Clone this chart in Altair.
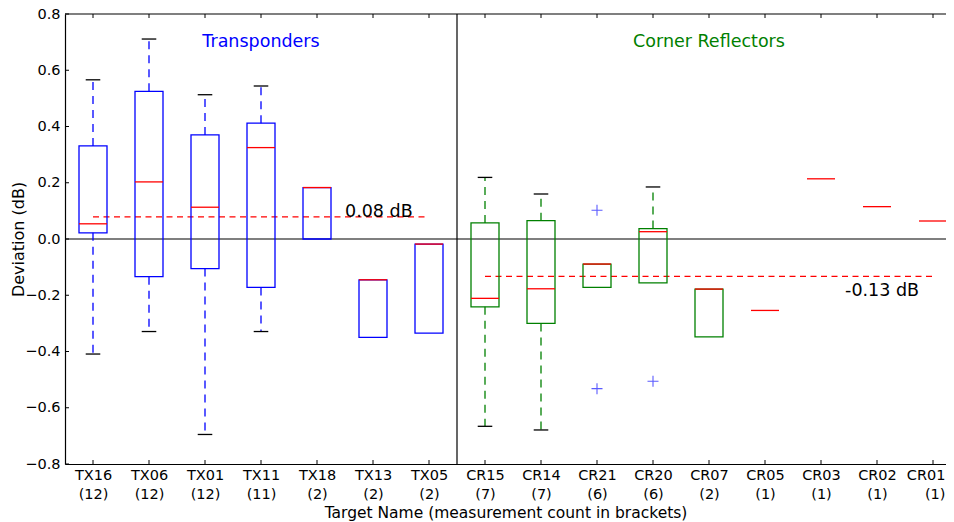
import altair as alt
import pandas as pd

names = ["TX16", "TX06", "TX01", "TX11", "TX18", "TX13", "TX05",
         "CR15", "CR14", "CR21", "CR20", "CR07", "CR05", "CR03", "CR02", "CR01"]
counts = [12, 12, 12, 11, 2, 2, 2, 7, 7, 6, 6, 2, 1, 1, 1, 1]
groups = ["Transponders"] * 7 + ["Corner Reflectors"] * 9
q1 = [0.022, -0.134, -0.105, -0.172, 0.0, -0.350, -0.335,
      -0.241, -0.300, -0.172, -0.156, -0.348, None, None, None, None]
q3 = [0.331, 0.525, 0.370, 0.412, 0.183, -0.145, -0.018,
      0.057, 0.065, -0.089, 0.037, -0.178, None, None, None, None]
medians = [0.054, 0.203, 0.113, 0.325, 0.183, -0.145, -0.018,
           -0.211, -0.177, -0.089, 0.026, -0.178, -0.254, 0.214, 0.115, 0.064]
whisker_hi = [0.566, 0.711, 0.513, 0.544, None, None, None,
              0.219, 0.160, None, 0.185, None, None, None, None, None]
whisker_lo = [-0.409, -0.329, -0.695, -0.329, None, None, None,
              -0.666, -0.679, None, None, None, None, None, None, None]
outlier_names = ["CR21", "CR21", "CR20"]
outlier_values = [0.102, -0.532, -0.506]
group_names = ["Transponders", "Corner Reflectors"]
group_colors = ["#0000ff", "#008000"]
group_means = [0.079, -0.133]
mean_labels = ["0.08 dB", "-0.13 dB"]
y_ticks = [-0.8, -0.6, -0.4, -0.2, 0.0, 0.2, 0.4, 0.6, 0.8]

W, H = 881, 450
FONT = "DejaVu Sans"
pos = list(range(1, len(names) + 1))

df = pd.DataFrame({"pos": pos, "name": names, "count": counts, "group": groups,
                   "q1": q1, "q3": q3, "median": medians,
                   "whi": whisker_hi, "wlo": whisker_lo})
boxes = df.dropna(subset=["q1", "q3"])
hi = df.dropna(subset=["whi"])
lo = df.dropna(subset=["wlo"])
out = pd.DataFrame({"name": outlier_names, "v": outlier_values})
out["pos"] = out["name"].map({n: p for n, p in zip(names, pos)})
gdf = pd.DataFrame({"group": group_names, "mean": group_means, "label": mean_labels})
gdf["start"] = [df[df.group == g].pos.min() for g in group_names]
gdf["end"] = [df[df.group == g].pos.max() for g in group_names]
gdf["center"] = (gdf["start"] + gdf["end"]) / 2
sep = pd.DataFrame({"x": [(gdf["end"][0] + gdf["start"][1]) / 2]})
ticks_df = pd.DataFrame({"v": y_ticks})
pos_df = pd.DataFrame({"pos": pos})

xs = alt.Scale(domain=[0.5, 0.5 + W / 56.0], nice=False, zero=False)
ys = alt.Scale(domain=[-0.8, 0.8], nice=False, zero=False)
col = alt.Scale(domain=group_names, range=group_colors)

label_expr = "[" + ",".join(f"['{n}','({c})']" for n, c in zip(names, counts)) + "][round(datum.value)-1]"
xaxis = alt.Axis(values=pos, labelExpr=label_expr, ticks=False, grid=False,
                 domainColor="black", domainWidth=1.2, labelFont=FONT, labelFontSize=14.5,
                 labelColor="black", labelLineHeight=19, labelPadding=4,
                 labelFlush=14, labelFlushOffset=12,
                 title="Target Name (measurement count in brackets)", titleFont=FONT,
                 titleFontSize=15.5, titleFontWeight="normal", titleColor="black",
                 titlePadding=5, labelOverlap=False)
yaxis = alt.Axis(values=y_ticks, format=".1f", ticks=False, grid=False,
                 domainColor="black", domainWidth=1.2, labelFont=FONT, labelFontSize=14.5,
                 labelColor="black", labelPadding=5, title="Deviation (dB)", titleFont=FONT,
                 titleFontSize=16, titleFontWeight="normal", titleColor="black",
                 titleX=-39, titleY=H / 2)


def X(f):
    return alt.X(f, type="quantitative", scale=xs, axis=xaxis)


def Y(f):
    return alt.Y(f, type="quantitative", scale=ys, axis=yaxis)


color = alt.Color("group:N", scale=col, legend=None)

box_layer = alt.Chart(boxes).transform_calculate(
    x0="datum.pos - 0.25", x1="datum.pos + 0.25"
).mark_rect(fillOpacity=0, strokeWidth=1.3, clip=True).encode(
    x=X("x0"), x2="x1", y=Y("q1"), y2="q3", stroke=alt.Stroke("group:N", scale=col, legend=None))

wh_hi = alt.Chart(hi).mark_rule(strokeDash=[8, 6], strokeWidth=1.3).encode(
    x=X("pos"), y=Y("q3"), y2="whi", color=color)
wh_lo = alt.Chart(lo).mark_rule(strokeDash=[8, 6], strokeWidth=1.3).encode(
    x=X("pos"), y=Y("q1"), y2="wlo", color=color)
cap_hi = alt.Chart(hi).transform_calculate(
    x0="datum.pos - 0.13", x1="datum.pos + 0.13"
).mark_rule(color="black", strokeWidth=1.3).encode(x=X("x0"), x2="x1", y=Y("whi"))
cap_lo = alt.Chart(lo).transform_calculate(
    x0="datum.pos - 0.13", x1="datum.pos + 0.13"
).mark_rule(color="black", strokeWidth=1.3).encode(x=X("x0"), x2="x1", y=Y("wlo"))
med = alt.Chart(df).transform_calculate(
    x0="datum.pos - 0.25", x1="datum.pos + 0.25"
).mark_rule(color="#ff0000", strokeWidth=1.3, clip=True).encode(x=X("x0"), x2="x1", y=Y("median"))
outl = alt.Chart(out).mark_point(shape="M-1,0L1,0M0,-1L0,1", filled=False, size=121,
                                 color="#3333ff", strokeWidth=1.1, opacity=0.8).encode(
    x=X("pos"), y=Y("v"))

zero = alt.Chart(pd.DataFrame({"v": [0.0]})).mark_rule(color="black", strokeWidth=1.2).encode(
    x=alt.value(0), x2=alt.value(W), y=Y("v"))
sep_l = alt.Chart(sep).mark_rule(color="black", strokeWidth=1.2).encode(
    x=X("x"), y=alt.value(0), y2=alt.value(H))
top = alt.Chart(pd.DataFrame({"v": [0]})).mark_rule(color="black", strokeWidth=1.2).encode(
    x=alt.value(0), x2=alt.value(W), y=alt.value(0))

mean_l = alt.Chart(gdf).mark_rule(color="#ff0000", strokeDash=[6, 4.5], strokeWidth=1.3).encode(
    x=X("start"), x2="end", y=Y("mean"))
tx_lab = alt.Chart(gdf.iloc[[0]]).mark_text(font=FONT, fontSize=17.5, align="left",
                                            baseline="alphabetic", color="black").encode(
    x=alt.X(datum=5.5, type="quantitative", scale=xs, axis=xaxis), y=Y("mean"), text="label:N")
cr_lab = alt.Chart(gdf.iloc[[1]]).mark_text(font=FONT, fontSize=17.5, align="left",
                                            baseline="alphabetic", dy=20, color="black").encode(
    x=alt.X(datum=14.43, type="quantitative", scale=xs, axis=xaxis), y=Y("mean"), text="label:N")
titles = alt.Chart(gdf).mark_text(font=FONT, fontSize=17.5, align="center",
                                  baseline="alphabetic").encode(
    x=X("center"), y=alt.value(33), text="group:N", color=color)

yt = alt.Chart(ticks_df).mark_rule(color="black", strokeWidth=1).encode(
    x=alt.value(0), x2=alt.value(4), y=Y("v"))
xt_b = alt.Chart(pos_df).mark_rule(color="black", strokeWidth=1).encode(
    x=X("pos"), y=alt.value(H), y2=alt.value(H - 4))
xt_t = alt.Chart(pos_df).mark_rule(color="black", strokeWidth=1).encode(
    x=X("pos"), y=alt.value(0), y2=alt.value(4))

chart = alt.layer(
    zero, sep_l, top, mean_l, box_layer, wh_hi, wh_lo, cap_hi, cap_lo, med, outl,
    tx_lab, cr_lab, titles, yt, xt_b, xt_t
).properties(
    width=W, height=H,
    autosize=alt.AutoSizeParams(type="none"),
    padding={"left": 57, "top": 6, "right": 0, "bottom": 58},
).configure_view(stroke="transparent", strokeWidth=0)

chart.save("out.html", embed_options={"renderer": "svg", "actions": False})
